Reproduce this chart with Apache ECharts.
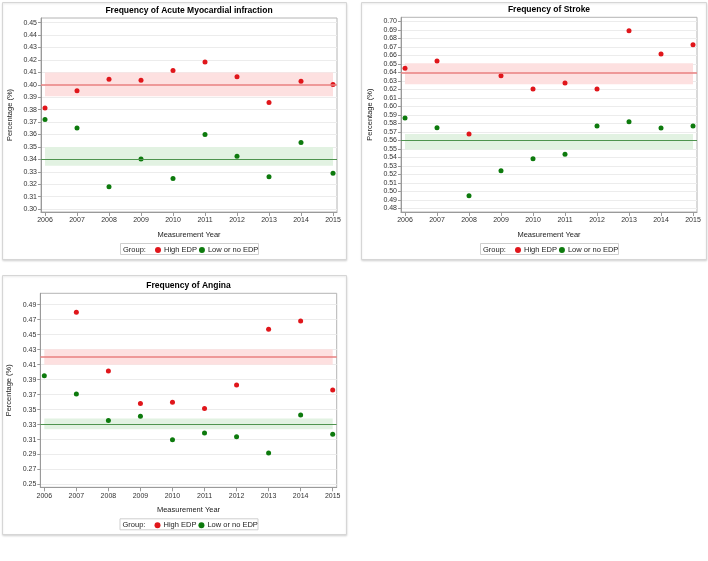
<!DOCTYPE html>
<html>
<head>
<meta charset="utf-8">
<script src="https://cdn.jsdelivr.net/npm/echarts@6/dist/echarts.min.js"></script>
<style>html,body{margin:0;padding:0;background:#fff;}#c{width:708px;height:561px;}</style>
</head>
<body>
<div id="c"></div>
<script>
const years = [2006, 2007, 2008, 2009, 2010, 2011, 2012, 2013, 2014, 2015];

const amiHigh = [0.3813, 0.3953, 0.4045, 0.4037, 0.4116, 0.4184, 0.4065, 0.3857, 0.4029, 0.4003];
const amiLow  = [0.3721, 0.3652, 0.3179, 0.3403, 0.3245, 0.3600, 0.3424, 0.3260, 0.3535, 0.3287];
const amiHighMean = 0.4005, amiHighBand = [0.3908, 0.4100];
const amiLowMean = 0.3424,  amiLowBand = [0.3349, 0.3500];
const amiTicks = [0.30,0.31,0.32,0.33,0.34,0.35,0.36,0.37,0.38,0.39,0.40,0.41,0.42,0.43,0.44,0.45];

const strokeHigh = [0.6447, 0.6533, 0.5675, 0.6361, 0.6204, 0.6275, 0.6204, 0.6890, 0.6616, 0.6725];
const strokeLow  = [0.5863, 0.5749, 0.4949, 0.5243, 0.5384, 0.5439, 0.5769, 0.5820, 0.5745, 0.5769];
const strokeHighMean = 0.6388, strokeHighBand = [0.6259, 0.6506];
const strokeLowMean = 0.5580,  strokeLowBand = [0.5492, 0.5675];
const strokeTicks = [0.48,0.49,0.50,0.51,0.52,0.53,0.54,0.55,0.56,0.57,0.58,0.59,0.60,0.61,0.62,0.63,0.64,0.65,0.66,0.67,0.68,0.69,0.70];

const anginaHigh = [null, 0.4798, 0.4016, 0.3580, 0.3598, 0.3513, 0.3829, 0.4571, 0.4682, 0.3762];
const anginaLow  = [0.3953, 0.3709, 0.3353, 0.3411, 0.3096, 0.3189, 0.3136, 0.2922, 0.3429, 0.3171];
const anginaHighMean = 0.4202, anginaHighBand = [0.4100, 0.4304];
const anginaLowMean = 0.3313,  anginaLowBand = [0.3238, 0.3380];
const anginaTicks = [0.25,0.27,0.29,0.31,0.33,0.35,0.37,0.39,0.41,0.43,0.45,0.47,0.49];

const titles = ['Frequency of Acute Myocardial infraction', 'Frequency of Stroke', 'Frequency of Angina'];
const groupNames = ['High EDP', 'Low or no EDP'];

const FONT = '"Liberation Sans", Arial, sans-serif';
const RED = '#e0161b', GREEN = '#0d7a0d';

const panels = [
  {high: amiHigh, low: amiLow, hm: amiHighMean, hb: amiHighBand, lm: amiLowMean, lb: amiLowBand, ticks: amiTicks,
   yMin: 0.2976, yMax: 0.4538, grid: {left: 41, top: 18, width: 296, height: 194}, box: [2, 2, 344, 257]},
  {high: strokeHigh, low: strokeLow, hm: strokeHighMean, hb: strokeHighBand, lm: strokeLowMean, lb: strokeLowBand, ticks: strokeTicks,
   yMin: 0.4759, yMax: 0.7047, grid: {left: 401, top: 17.3, width: 296, height: 194.7}, box: [361, 2, 345, 257]},
  {high: anginaHigh, low: anginaLow, hm: anginaHighMean, hb: anginaHighBand, lm: anginaLowMean, lb: anginaLowBand, ticks: anginaTicks,
   yMin: 0.2463, yMax: 0.5052, grid: {left: 40.3, top: 293.3, width: 296.4, height: 194}, box: [2, 275, 344, 259]}
];

const option = {
  animation: false,
  backgroundColor: '#fff',
  textStyle: {fontFamily: FONT},
  title: [], grid: [], xAxis: [], yAxis: [], series: [], legend: [], graphic: []
};

panels.forEach((p, i) => {
  const g = p.grid;
  const cx = g.left + g.width / 2;
  const bottom = g.top + g.height;
  option.graphic.push({type: 'rect', silent: true, z: -10,
    shape: {x: p.box[0] + 0.5, y: p.box[1] + 0.5, width: p.box[2], height: p.box[3]},
    style: {fill: '#fff', stroke: '#d6d6d6', lineWidth: 1, shadowBlur: 2, shadowColor: 'rgba(0,0,0,0.12)', shadowOffsetY: 1}});
  option.title.push({text: titles[i], left: cx, top: g.top - 12, textAlign: 'center', padding: 0,
    textStyle: {fontSize: 8.5, fontWeight: 'bold', color: '#000', fontFamily: FONT}});
  option.grid.push({left: g.left, top: g.top, width: g.width, height: g.height, show: true,
    borderColor: '#b4b4b4', borderWidth: 1, backgroundColor: '#fff'});
  option.xAxis.push({type: 'value', gridIndex: i, min: 2005.875, max: 2015.125,
    name: 'Measurement Year', nameLocation: 'middle', nameGap: 19,
    nameTextStyle: {fontSize: 7.5, color: '#222', fontFamily: FONT},
    axisLine: {show: true, lineStyle: {color: '#9a9a9a'}},
    axisTick: {show: true, length: 4, customValues: years, lineStyle: {color: '#9a9a9a'}},
    axisLabel: {customValues: years, fontSize: 7, color: '#333', margin: 5, formatter: v => String(v), fontFamily: FONT},
    splitLine: {show: false}});
  option.yAxis.push({type: 'value', gridIndex: i, min: p.yMin, max: p.yMax,
    name: 'Percentage (%)', nameLocation: 'middle', nameGap: 27,
    nameTextStyle: {fontSize: 7.5, color: '#222', fontFamily: FONT},
    axisLine: {show: true, lineStyle: {color: '#9a9a9a'}},
    axisTick: {show: true, length: 3, customValues: p.ticks, lineStyle: {color: '#9a9a9a'}},
    axisLabel: {customValues: p.ticks, fontSize: 7, color: '#333', margin: 4, formatter: v => v.toFixed(2), fontFamily: FONT},
    splitLine: {show: true, lineStyle: {color: '#ececec', width: 1}}});
  const mk = (name, vals, color, mean, band, lineColor, lineW, bandColor) => ({
    name, type: 'scatter', xAxisIndex: i, yAxisIndex: i, symbolSize: 5,
    itemStyle: {color, opacity: 1},
    data: years.map((y, k) => vals[k] == null ? null : [y, vals[k]]).filter(d => d),
    markLine: {silent: true, symbol: 'none', label: {show: false},
      lineStyle: {color: lineColor, width: lineW, type: 'solid'}, data: [{yAxis: mean}]},
    markArea: {silent: true, itemStyle: {color: bandColor},
      data: [[{xAxis: years[0], yAxis: band[0]}, {xAxis: years[years.length - 1], yAxis: band[1]}]]}
  });
  option.series.push(mk(groupNames[0], p.high, RED, p.hm, p.hb, '#e98080', 1.5, '#fde0e0'));
  option.series.push(mk(groupNames[1], p.low, GREEN, p.lm, p.lb, '#4f944f', 1, '#e2f2e2'));
  option.legend.push({data: groupNames, left: cx - 34, top: bottom + 32, orient: 'horizontal',
    icon: 'circle', itemWidth: 6, itemHeight: 6, itemGap: 2, selectedMode: false,
    padding: [2, 0, 2, 0], borderWidth: 0,
    textStyle: {fontSize: 7.5, color: '#222', fontFamily: FONT, padding: [0, 0, 0, -2]}});
  option.graphic.push({type: 'rect', silent: true,
    shape: {x: cx - 69 + 0.5, y: bottom + 31.5, width: 138, height: 11},
    style: {fill: 'none', stroke: '#cfcfcf', lineWidth: 1}});
  option.graphic.push({type: 'text', silent: true, x: cx - 66, y: bottom + 37.5,
    style: {text: 'Group:', fontSize: 7.5, fill: '#222', fontFamily: FONT, verticalAlign: 'middle', textVerticalAlign: 'middle'}});
});

const chart = echarts.init(document.getElementById('c'), null, {renderer: 'canvas'});
chart.setOption(option);
</script>
</body>
</html>
